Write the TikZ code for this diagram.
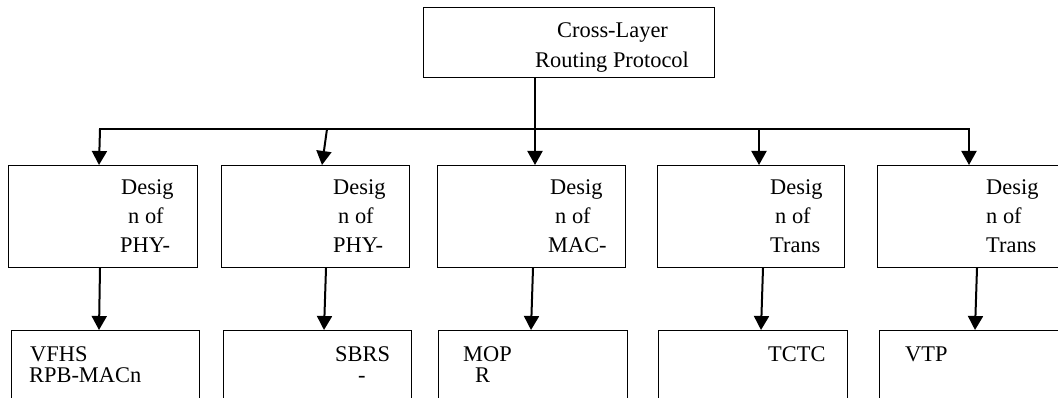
\documentclass[tikz,border=0pt]{standalone}
\usepackage{fontspec}
\setmainfont{Liberation Serif}
\usetikzlibrary{arrows.meta,calc}

\tikzset{
  box/.style={draw=black, line width=1.2pt, fill=white, inner sep=0pt, anchor=north west},
  txt/.style={inner sep=0pt, anchor=base west, font=\fontsize{22.4}{29}\selectfont},
  wire/.style={draw=black, line width=2pt},
  feed/.style={wire, -{Triangle[length=14pt,width=15pt]}},
}

\begin{document}
\begin{tikzpicture}[x=1pt, y=-1pt]
  \useasboundingbox (0,0) rectangle (1058,398);
  \clip (0,0) rectangle (1058,398);

  % root box
  \node[box, minimum width=291pt, minimum height=70pt] (root) at (423,7) {};
  \begin{scope}
    \clip (423,7) rectangle (714,72.5);
    \node[txt] (rootA) at (557,38) {Cross-Layer};
    \node[txt] (rootB) at (535,68) {Routing Protocol};
  \end{scope}

  % design boxes
  \node[box, minimum width=189pt, minimum height=102pt] (d1) at (8,165) {};
  \node[box, minimum width=188pt, minimum height=102pt] (d2) at (221,165) {};
  \node[box, minimum width=188pt, minimum height=102pt] (d3) at (437,165) {};
  \node[box, minimum width=187pt, minimum height=102pt] (d4) at (657,165) {};
  \node[box, minimum width=220pt, minimum height=102pt] (d5) at (877,165) {};

  \node[txt] (d1a) at (121,195) {Desig};
  \node[txt] (d1b) at (128,224) {n of};
  \node[txt] (d1c) at (120,253) {PHY-};

  \node[txt] (d2a) at (333,195) {Desig};
  \node[txt] (d2b) at (338,224) {n of};
  \node[txt] (d2c) at (333,253) {PHY-};

  \node[txt] (d3a) at (550,195) {Desig};
  \node[txt] (d3b) at (555,224) {n of};
  \node[txt] (d3c) at (548,253) {MAC-};

  \node[txt] (d4a) at (770,195) {Desig};
  \node[txt] (d4b) at (775,224) {n of};
  \node[txt] (d4c) at (770,253) {Trans};

  \node[txt] (d5a) at (986,195) {Desig};
  \node[txt] (d5b) at (986,224) {n of};
  \node[txt] (d5c) at (986,253) {Trans};

  % protocol boxes
  \node[box, minimum width=188pt, minimum height=100pt] (p1) at (11,330) {};
  \node[box, minimum width=188pt, minimum height=100pt] (p2) at (223,330) {};
  \node[box, minimum width=189pt, minimum height=100pt] (p3) at (438,330) {};
  \node[box, minimum width=189pt, minimum height=100pt] (p4) at (658,330) {};
  \node[box, minimum width=220pt, minimum height=100pt] (p5) at (879,330) {};

  \node[txt] (p1a) at (30,361) {VFHS};
  \node[txt] (p1b) at (29,382) {RPB-MACn};
  \node[txt] (p2a) at (335,361) {SBRS};
  \node[txt] (p2b) at (358,382) {-};
  \node[txt] (p3a) at (463,361) {MOP};
  \node[txt] (p3b) at (475,382) {R};
  \node[txt] (p4a) at (768,361) {TCTC};
  \node[txt] (p5a) at (905,361) {VTP};

  % distribution bus
  \coordinate (j1) at (100,129);
  \coordinate (j2) at (327,129);
  \coordinate (j3) at (535,129);
  \coordinate (j4) at (759,129);
  \coordinate (j5) at (969,129);
  \draw[wire] ($(root.south west)+(112,0)$) -- (j3);
  \draw[wire, line cap=rect] (j1) -- (j5);

  \draw[feed] (j1) -- ($(d1.north west)+(91,0)$);
  \draw[feed] (j2) -- ($(d2.north west)+(101,0)$);
  \draw[feed] (j3) -- ($(d3.north west)+(98,0)$);
  \draw[feed] (j4) -- ($(d4.north west)+(102,0)$);
  \draw[feed] (j5) -- ($(d5.north west)+(92,0)$);

  % design to protocol
  \draw[feed] ($(d1.south west)+(92,0)$) -- ($(p1.north west)+(88,0)$);
  \draw[feed] ($(d2.south west)+(105,0)$) -- ($(p2.north west)+(101,0)$);
  \draw[feed] ($(d3.south west)+(96,0)$) -- ($(p3.north west)+(93,0)$);
  \draw[feed] ($(d4.south west)+(106,0)$) -- ($(p4.north west)+(103,0)$);
  \draw[feed] ($(d5.south west)+(100,0)$) -- ($(p5.north west)+(96,0)$);
\end{tikzpicture}
\end{document}
